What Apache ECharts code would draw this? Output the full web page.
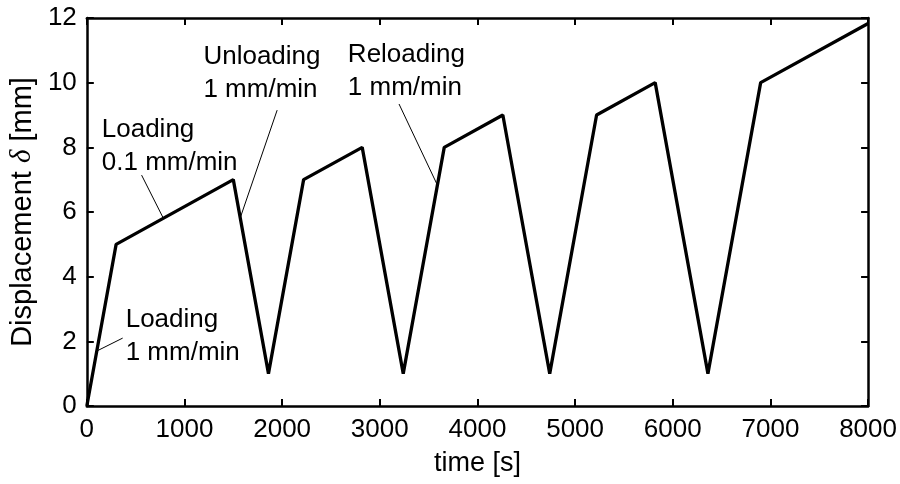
<!DOCTYPE html>
<html>
<head>
<meta charset="utf-8">
<script src="https://cdn.jsdelivr.net/npm/echarts@6/dist/echarts.min.js"></script>
<style>
html,body{margin:0;padding:0;background:#fff;}
#chart{width:900px;height:484px;}
</style>
</head>
<body>
<div id="chart"></div>
<script>
const times = [0, 300, 1500, 1860, 2220, 2820, 3240, 3660, 4260, 4740, 5220, 5820, 6360, 6900, 8000];
const displacement = [0, 5, 7, 1, 7, 8, 1, 8, 9, 1, 9, 10, 1, 10, 11.83];

const annotationTexts = ['Loading\n1 mm/min', 'Loading\n0.1 mm/min', 'Unloading\n1 mm/min', 'Reloading\n1 mm/min'];
const annotationAnchors = [[398, 2.15], [153, 8.03], [1194, 10.28], [2673, 10.35]];
const leaderLines = [
  [[367, 2.10], [102, 1.70]],
  [[561, 7.14], [783, 5.81]],
  [[1949, 9.15], [1571, 5.82]],
  [[3197, 9.34], [3590, 6.83]]
];

const FONT = 'Liberation Sans, Arial, sans-serif';
const chart = echarts.init(document.getElementById('chart'));

function axisCommon() {
  return {
    axisLine: {show: true, onZero: false, lineStyle: {color: '#000', width: 2.5}},
    axisTick: {show: true, inside: true, length: 7, lineStyle: {color: '#000', width: 2}},
    splitLine: {show: false}
  };
}

const series = [{
  type: 'line',
  data: times.map((t, i) => [t, displacement[i]]),
  symbol: 'none',
  lineStyle: {color: '#000', width: 3.3},
  itemStyle: {color: '#000'},
  silent: true,
  z: 3
}];

leaderLines.forEach(seg => {
  series.push({
    type: 'line',
    data: seg,
    symbol: 'none',
    lineStyle: {color: '#000', width: 1},
    silent: true,
    z: 2
  });
});

series.push({
  type: 'scatter',
  symbol: 'circle',
  symbolSize: 0,
  itemStyle: {color: '#000', opacity: 1},
  silent: true,
  z: 4,
  label: {
    show: true,
    position: [0, 0],
    align: 'left',
    verticalAlign: 'middle',
    fontFamily: FONT,
    fontSize: 26,
    lineHeight: 33,
    color: '#000',
    opacity: 1,
    textBorderWidth: 0,
    formatter: p => annotationTexts[p.dataIndex]
  },
  data: annotationAnchors
});

const plain = v => String(v);

chart.setOption({
  backgroundColor: '#fff',
  animation: false,
  grid: {left: 85, right: 31, top: 18, bottom: 78, containLabel: false},
  xAxis: [
    Object.assign({
      type: 'value', min: 0, max: 8000, interval: 1000, position: 'bottom',
      axisLabel: {color: '#000', fontSize: 26, fontFamily: FONT, margin: 11, formatter: plain},
      name: 'time [s]', nameLocation: 'middle', nameGap: 44,
      nameTextStyle: {color: '#000', fontSize: 27, fontFamily: FONT}
    }, axisCommon()),
    Object.assign({
      type: 'value', min: 0, max: 8000, interval: 1000, position: 'top',
      axisLabel: {show: false}
    }, axisCommon())
  ],
  yAxis: [
    Object.assign({
      type: 'value', min: 0, max: 12, interval: 2, position: 'left',
      axisLabel: {color: '#000', fontSize: 26, fontFamily: FONT, margin: 10, formatter: plain},
      name: '{a|Displacement }{i|δ}{a| [mm]}', nameLocation: 'middle', nameGap: 44, nameRotate: 90,
      nameTextStyle: {
        color: '#000', fontSize: 29, fontFamily: FONT,
        rich: {
          a: {fontSize: 29, fontFamily: FONT, color: '#000'},
          i: {fontSize: 29, fontFamily: 'Liberation Serif, serif', fontStyle: 'italic', color: '#000'}
        }
      }
    }, axisCommon()),
    Object.assign({
      type: 'value', min: 0, max: 12, interval: 2, position: 'right',
      axisLabel: {show: false}
    }, axisCommon())
  ],
  series: series
});
</script>
</body>
</html>
